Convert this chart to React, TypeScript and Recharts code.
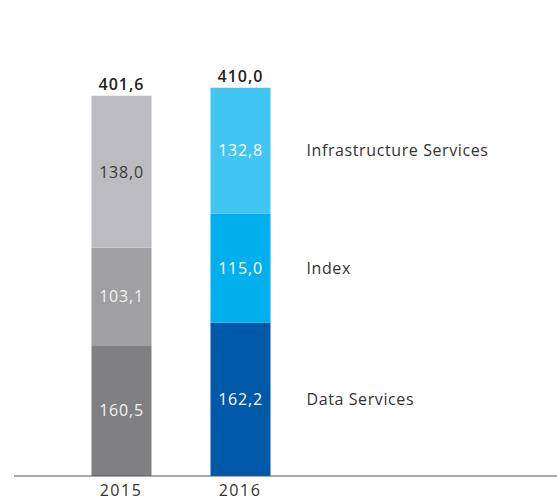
import { BarChart, Bar, XAxis, YAxis, LabelList, Cell } from 'recharts';

// Years shown on the x axis
const years = ['2015', '2016'];

// Segment heights as drawn in the reference (the 2015 bottom and top segments
// are drawn with each other's heights, the printed labels differ)
const dataServices = [138.0, 162.2];
const indexValues = [103.1, 115.0];
const infrastructure = [160.5, 132.8];

// Printed labels
const dataServicesLabels = ['160,5', '162,2'];
const indexLabels = ['103,1', '115,0'];
const infrastructureLabels = ['138,0', '132,8'];
const totalLabels = ['401,6', '410,0'];

const seriesNames = ['Data Services', 'Index', 'Infrastructure Services'];

const colors2015 = ['#808083', '#a0a0a3', '#bcbcc0'];
const colors2016 = ['#0058a8', '#00b0ec', '#41c6f3'];
const labelColors2015 = ['#f2f2f2', '#f2f2f2', '#3a3a3a'];

const FONT = '"Open Sans", sans-serif';

const chartData = years.map((year, i) => ({
  year,
  ds: dataServices[i],
  idx: indexValues[i],
  inf: infrastructure[i],
}));

const segLabels = [dataServicesLabels, indexLabels, infrastructureLabels];
const seriesKeys = ['ds', 'idx', 'inf'];

// Value label inside a segment, plus the series name to the right of the 2016 bar
const makeSegmentLabel = (series: number) => (props: any) => {
  const { x, y, width, height, index } = props;
  const cx = x + width / 2;
  const cy = y + height / 2;
  const fill = index === 0 ? labelColors2015[series] : '#ffffff';
  return (
    <g>
      <text x={cx} y={cy} dy="0.36em" textAnchor="middle" fill={fill}
        fontFamily={FONT} fontSize={16} letterSpacing={0.8}>
        {segLabels[series][index]}
      </text>
      {index === 1 && (
        <text x={x + width + 36} y={cy} dy="0.36em" textAnchor="start" fill="#333"
          fontFamily={FONT} fontSize={16} letterSpacing={0.6}>
          {seriesNames[series]}
        </text>
      )}
    </g>
  );
};

const TotalLabel = (props: any) => {
  const { x, y, width, index } = props;
  return (
    <text x={x + width / 2} y={y - 6} textAnchor="middle" fill="#222"
      fontFamily={FONT} fontSize={16} fontWeight={600} letterSpacing={1}>
      {totalLabels[index]}
    </text>
  );
};

const YearTick = (props: any) => {
  const { x, y, payload } = props;
  return (
    <text x={x} y={y + 20} textAnchor="middle" fill="#333"
      fontFamily={FONT} fontSize={16} letterSpacing={1.5}>
      {payload.value}
    </text>
  );
};

export default function App() {
  return (
    <div style={{ position: 'absolute', left: 0, top: 0, width: 557, height: 501, background: '#fff' }}>
      <BarChart
        width={557}
        height={501}
        data={chartData}
        margin={{ top: 50, right: 0, left: 14, bottom: 0 }}
        barSize={60}
      >
        <XAxis
          dataKey="year"
          height={25}
          tickLine={false}
          tickSize={0}
          tickMargin={0}
          axisLine={{ stroke: '#555', strokeWidth: 1 }}
          padding={{ left: 47.5, right: 257.5 }}
          tick={<YearTick />}
          interval={0}
        />
        <YAxis hide domain={[0, 450]} />
        {seriesKeys.map((key, s) => (
          <Bar key={key} dataKey={key} stackId="a" isAnimationActive={false}>
            {chartData.map((_, i) => (
              <Cell key={`cell-${i}`} fill={i === 0 ? colors2015[s] : colors2016[s]} />
            ))}
            <LabelList content={makeSegmentLabel(s)} />
            {s === 2 && <LabelList content={<TotalLabel />} />}
          </Bar>
        ))}
      </BarChart>
    </div>
  );
}
